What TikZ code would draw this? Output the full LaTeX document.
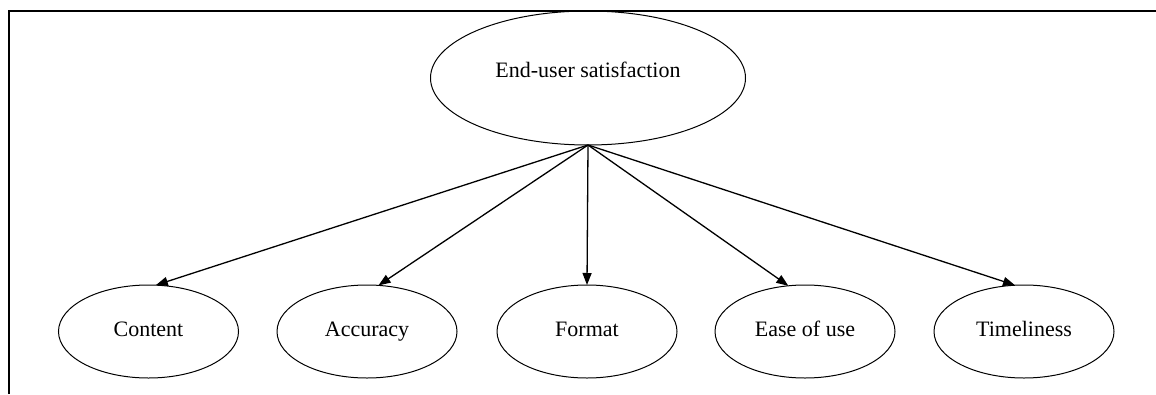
\documentclass[tikz,border=0pt]{standalone}
\usepackage{fontspec}
\setmainfont{Liberation Serif}
\usetikzlibrary{arrows.meta,shapes.geometric}
\begin{document}
\begin{tikzpicture}[x=1pt,y=-1pt,
  frameline/.style={line width=2.2pt},
  topell/.style={draw,ellipse,line width=1pt,inner sep=0pt,outer sep=0pt,
    minimum width=315pt,minimum height=134pt,font=\fontsize{22}{26}\selectfont},
  leaf/.style={draw,ellipse,line width=1pt,inner sep=0pt,outer sep=0pt,
    minimum width=180pt,minimum height=93pt,text height=15pt,text depth=5pt,
    font=\fontsize{22}{26}\selectfont},
  conn/.style={line width=1.3pt,-{Triangle[length=12pt,width=9pt]}}]
\useasboundingbox (0,0) rectangle (1156,394);
\draw[frameline] (9,394) -- (9,11) -- (1156,11);
\node[topell] (top) at (588,78) {\raisebox{16pt}{End-user satisfaction}};
\node[leaf] (content) at (148.5,331.5) {Content};
\node[leaf] (accuracy) at (367,331.5) {Accuracy};
\node[leaf] (format) at (587,331.5) {Format};
\node[leaf] (ease) at (805,331.5) {Ease of use};
\node[leaf] (time) at (1024,331.5) {Timeliness};
\draw[conn] (top.south) -- (content.81.4);
\draw[conn] (top.south) -- (accuracy.76.6);
\draw[conn] (top.south) -- (format.north);
\draw[conn] (top.south) -- (ease.110.4);
\draw[conn] (top.south) -- (time.101);
\end{tikzpicture}
\end{document}
